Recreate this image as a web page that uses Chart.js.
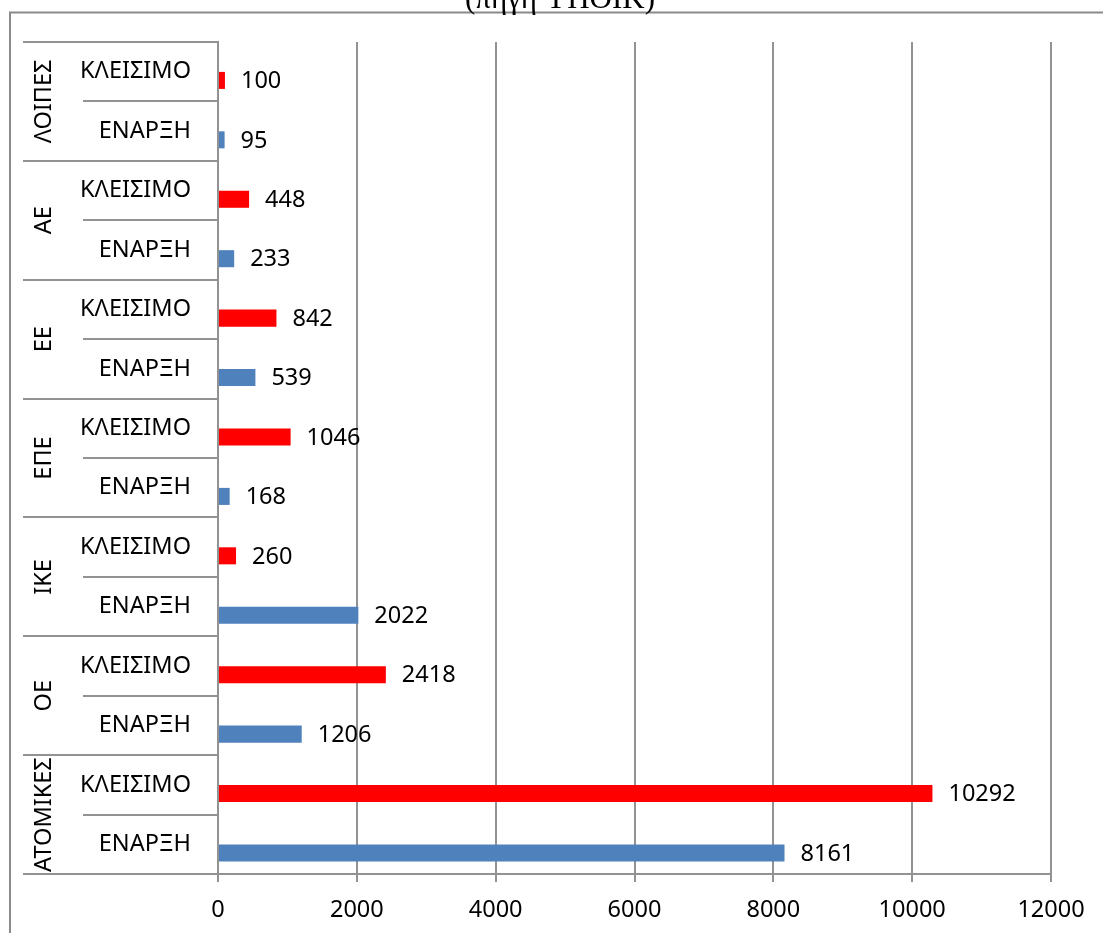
<!DOCTYPE html>
<html>
<head>
<meta charset="utf-8">
<script src="https://cdn.jsdelivr.net/npm/chart.js@4"></script>
<style>
  html, body { margin: 0; padding: 0; background: #fff; }
  canvas { display: block; }
</style>
</head>
<body>
<canvas id="c" width="1103" height="933"></canvas>
<script>
// ---- data (top to bottom as in the picture) ----
const titleText = '(πηγή ΥΠΟΙΚ)';
const groups = ['ΛΟΙΠΕΣ', 'ΑΕ', 'ΕΕ', 'ΕΠΕ', 'ΙΚΕ', 'ΟΕ', 'ΑΤΟΜΙΚΕΣ'];
const subLabels = ['ΚΛΕΙΣΙΜΟ', 'ΕΝΑΡΞΗ'];
const kleisimo = [100, 448, 842, 1046, 260, 2418, 10292];
const enarxi = [95, 233, 539, 168, 2022, 1206, 8161];
const xTicks = [0, 2000, 4000, 6000, 8000, 10000, 12000];

const RED = '#FF0000';
const BLUE = '#4F81BD';
const LINE = '#929292';
const FONT = '"Noto Sans", "DejaVu Sans", sans-serif';
const FSIZE = 23.5;

// build rows
const rowLabels = [], rowValues = [], rowColors = [];
groups.forEach((g, i) => {
  rowLabels.push(subLabels[0]); rowValues.push(kleisimo[i]); rowColors.push(RED);
  rowLabels.push(subLabels[1]); rowValues.push(enarxi[i]); rowColors.push(BLUE);
});

const decor = {
  id: 'decor',
  beforeDraw(chart) {
    const ctx = chart.ctx;
    ctx.save();
    ctx.fillStyle = '#fff';
    ctx.fillRect(0, 0, chart.width, chart.height);
    // outer frame
    ctx.strokeStyle = '#8a8a8a';
    ctx.lineWidth = 2;
    ctx.beginPath();
    ctx.moveTo(10, 934); ctx.lineTo(10, 12.5); ctx.lineTo(1104, 12.5);
    ctx.stroke();
    // title (mostly cut off at the top)
    ctx.fillStyle = '#000';
    ctx.font = '31px "Liberation Serif", "DejaVu Serif", serif';
    ctx.textAlign = 'center';
    ctx.textBaseline = 'alphabetic';
    ctx.fillText(titleText, 560, 8);
    ctx.restore();
  },
  afterDraw(chart) {
    const ctx = chart.ctx;
    const y = chart.scales.y;
    const axisX = chart.chartArea.left;
    ctx.save();
    ctx.strokeStyle = LINE;
    ctx.lineWidth = 2;
    // category separators
    for (let k = 0; k <= rowLabels.length; k++) {
      const py = Math.round(y.getPixelForValue(k - 0.5));
      const x0 = (k % 2 === 0) ? 23 : 83;
      ctx.beginPath();
      ctx.moveTo(x0, py); ctx.lineTo(axisX, py);
      ctx.stroke();
    }
    ctx.fillStyle = '#000';
    ctx.font = FSIZE + 'px ' + FONT;
    ctx.textBaseline = 'middle';
    // inner labels
    ctx.textAlign = 'right';
    rowLabels.forEach((lab, i) => {
      ctx.fillText(lab, 191, y.getPixelForValue(i));
    });
    // group labels (rotated)
    ctx.textAlign = 'center';
    groups.forEach((g, i) => {
      const cy = (y.getPixelForValue(2 * i) + y.getPixelForValue(2 * i + 1)) / 2;
      ctx.save();
      ctx.translate(43, cy);
      ctx.rotate(-Math.PI / 2);
      ctx.fillText(g, 0, 1);
      ctx.restore();
    });
    // value labels
    ctx.textAlign = 'left';
    const meta = chart.getDatasetMeta(1);
    meta.data.forEach((bar, i) => {
      ctx.fillText(String(rowValues[i]), bar.x + 16, bar.y + 1);
    });
    ctx.restore();
  }
};

new Chart(document.getElementById('c'), {
  type: 'bar',
  data: {
    labels: rowLabels,
    datasets: [
      { label: 'empty', data: rowValues.map(() => null), backgroundColor: 'rgba(0,0,0,0)' },
      { label: 'values', data: rowValues, backgroundColor: rowColors,
        categoryPercentage: 0.585, barPercentage: 0.98 }
    ]
  },
  options: {
    indexAxis: 'y',
    responsive: false,
    animation: false,
    devicePixelRatio: 1,
    datasets: { bar: { categoryPercentage: 0.585, barPercentage: 0.98 } },
    layout: { padding: { left: 0, top: 42, right: 52, bottom: 0 } },
    plugins: { legend: { display: false }, tooltip: { enabled: false }, title: { display: false } },
    scales: {
      x: {
        type: 'linear',
        min: 0, max: 12000,
        afterBuildTicks: (s) => { s.ticks = xTicks.map(v => ({ value: v })); },
        afterFit: (s) => { s.height = 59; },
        grid: { color: LINE, lineWidth: 2, tickLength: 8, drawTicks: true },
        border: { display: true, color: LINE, width: 2 },
        ticks: { color: '#000', font: { family: FONT, size: FSIZE }, padding: 14, maxRotation: 0,
                 callback: (v) => String(v) }
      },
      y: {
        type: 'category',
        afterFit: (s) => { s.width = 218; },
        grid: { display: false },
        border: { display: true, color: LINE, width: 2 },
        ticks: { display: false }
      }
    }
  },
  plugins: [decor]
});
</script>
</body>
</html>
